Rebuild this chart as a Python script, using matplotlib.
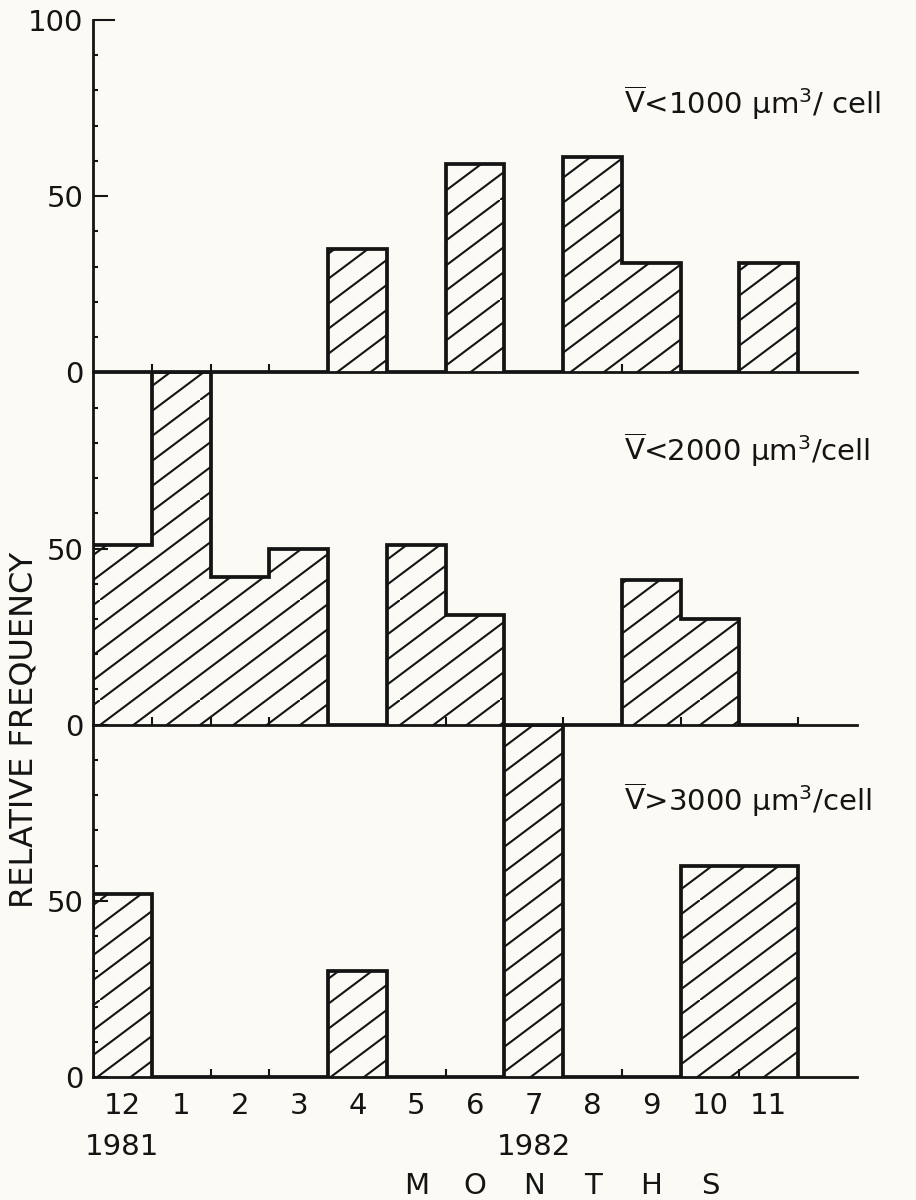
import numpy as np
import matplotlib
matplotlib.use("Agg")
import matplotlib.pyplot as plt
import matplotlib.hatch as mhatch
from matplotlib.path import Path
from matplotlib.transforms import blended_transform_factory

# ---------------- data ----------------
months = ["12", "1", "2", "3", "4", "5", "6", "7", "8", "9", "10", "11"]
years = ["1981", "1982"]
year_month_index = [0, 7]
axis_word = ["M", "O", "N", "T", "H", "S"]
freq_lt1000 = [0, 0, 0, 0, 35, 0, 59, 0, 61, 31, 0, 31]
freq_lt2000 = [51, 100, 42, 50, 0, 51, 31, 0, 0, 41, 30, 0]
freq_gt3000 = [52, 0, 0, 0, 30, 0, 0, 100, 0, 0, 60, 60]
panel_labels = [
    r"$\overline{\mathrm{V}}$<1000 μm$^{3}$/ cell",
    r"$\overline{\mathrm{V}}$<2000 μm$^{3}$/cell",
    r"$\overline{\mathrm{V}}$>3000 μm$^{3}$/cell",
]
ylabel = "RELATIVE FREQUENCY"


# ---------------- shallow "/" hatch (like the hand-drawn original) ----------------
class ShallowNE(mhatch.HatchPatternBase):
    filled = False

    def __init__(self, hatch, density):
        n = hatch.count("/")
        self.segs = []
        if n:
            lines = 4 * n
            slope = 0.75
            for k in range(-lines, lines + 1):
                c = k / lines
                x0 = max(0.0, -c / slope)
                x1 = min(1.0, (1 - c) / slope)
                if x1 - x0 > 1e-9:
                    self.segs.append(((x0, slope * x0 + c), (x1, slope * x1 + c)))
        self.num_vertices = 2 * len(self.segs)

    def set_vertices_and_codes(self, vertices, codes):
        pts = np.array(self.segs, dtype=float).reshape(-1, 2)
        vertices[:len(pts)] = pts
        codes[0::2] = Path.MOVETO
        codes[1::2] = Path.LINETO


mhatch._hatch_types = [ShallowNE if t is mhatch.NorthEastHatch else t
                       for t in mhatch._hatch_types]

# ---------------- style ----------------
ink = "#141414"
paper = "#fbfaf4"
plt.rcParams["font.family"] = ["DejaVu Sans"]
plt.rcParams["mathtext.fontset"] = "dejavusans"
plt.rcParams["mathtext.default"] = "regular"
plt.rcParams["hatch.linewidth"] = 1.5
plt.rcParams["hatch.color"] = ink
fs = 21

fig = plt.figure(figsize=(9.16, 12), dpi=100, facecolor=paper)
gs = fig.add_gridspec(3, 1, left=93 / 916, right=857 / 916,
                      top=1 - 20 / 1200, bottom=1 - 1077 / 1200, hspace=0)
axes = [fig.add_subplot(gs[i]) for i in range(3)]
series = [freq_lt1000, freq_lt2000, freq_gt3000]
label_y = [0.733, 0.748, 0.755]
edges = np.arange(len(months) + 1)

for i, (ax, vals) in enumerate(zip(axes, series)):
    ax.set_facecolor("none")
    ax.stairs(vals, edges, baseline=0, fill=True, facecolor="none",
              edgecolor=ink, hatch="/", linewidth=2.7, joinstyle="miter")
    ax.set_xlim(0, 13)
    ax.set_ylim(0, 100)
    for s in ("top", "right"):
        ax.spines[s].set_visible(False)
    for s in ("left", "bottom"):
        ax.spines[s].set_linewidth(2.0)
        ax.spines[s].set_color(ink)

    # x ticks at month boundaries
    ax.set_xticks(np.arange(1, 13))
    ax.set_xticklabels([])
    ax.tick_params(axis="x", which="major", direction="in", length=6,
                   width=1.5, color=ink, labelbottom=False)

    # y ticks
    if i == 0:
        ax.set_yticks([0, 50, 100])
        ax.set_yticklabels(["0", "50", "100"])
    else:
        ax.set_yticks([0, 50])
        ax.set_yticklabels(["0", "50"])
    ax.set_yticks([10, 20, 30, 40, 60, 70, 80, 90], minor=True)
    ax.tick_params(axis="y", which="major", direction="in", length=11,
                   width=1.5, color=ink, pad=7, labelsize=fs, labelcolor=ink)
    ax.tick_params(axis="y", which="minor", direction="in", length=3.5,
                   width=1.5, color=ink)

    ax.text(0.695, label_y[i], panel_labels[i], transform=ax.transAxes,
            ha="left", va="baseline", fontsize=fs, color=ink)

# month labels centred in the month intervals on the bottom panel
ax3 = axes[2]
ax3.set_xticks(np.arange(len(months)) + 0.5, minor=True)
ax3.set_xticklabels(months, minor=True)
ax3.tick_params(axis="x", which="minor", length=0, pad=11,
                labelsize=fs, labelcolor=ink)

# longer tick closing the top at 100
axes[0].yaxis.get_major_ticks()[2].tick1line.set_markersize(16)

trans = blended_transform_factory(ax3.transData, fig.transFigure)
for yr, idx in zip(years, year_month_index):
    fig.text(idx + 0.5, 1 - 1147 / 1200, yr, transform=trans, ha="center",
             va="center", fontsize=fs, color=ink)
for j, letter in enumerate(axis_word):
    fig.text(5.5 + j, 1 - 1186 / 1200, letter, transform=trans, ha="center",
             va="center", fontsize=fs, color=ink)

fig.text(24 / 916, 1 - 730 / 1200, ylabel, rotation=90, ha="center",
         va="center", fontsize=23, color=ink)

fig.savefig("out.png", dpi=100, facecolor=paper)
